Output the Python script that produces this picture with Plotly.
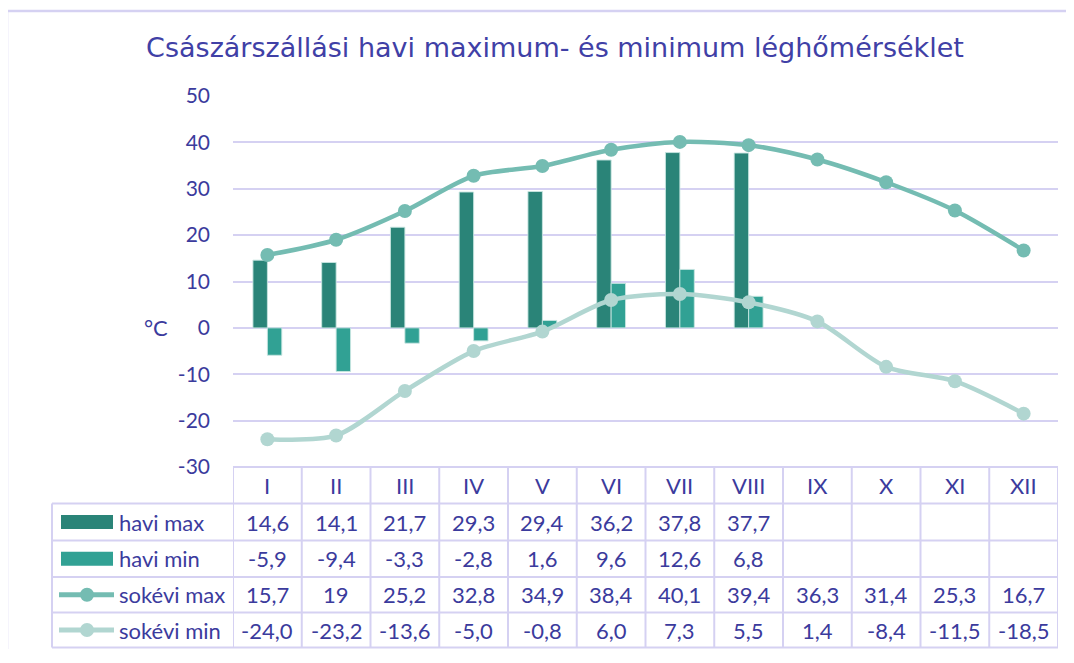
import plotly.graph_objects as go

months = ["I", "II", "III", "IV", "V", "VI", "VII", "VIII", "IX", "X", "XI", "XII"]
havi_max = [14.6, 14.1, 21.7, 29.3, 29.4, 36.2, 37.8, 37.7, None, None, None, None]
havi_min = [-5.9, -9.4, -3.3, -2.8, 1.6, 9.6, 12.6, 6.8, None, None, None, None]
sokevi_max = [15.7, 19, 25.2, 32.8, 34.9, 38.4, 40.1, 39.4, 36.3, 31.4, 25.3, 16.7]
sokevi_min = [-24.0, -23.2, -13.6, -5.0, -0.8, 6.0, 7.3, 5.5, 1.4, -8.4, -11.5, -18.5]
series_names = ["havi max", "havi min", "sokévi max", "sokévi min"]
y_ticks = [-30, -20, -10, 0, 10, 20, 30, 40, 50]
y_tick_labels = ["-30", "-20", "-10", "0", "10", "20", "30", "40", "50"]
title_text = "Császárszállási havi maximum- és minimum léghőmérséklet"
y_unit = "°C"

C_HMAX = "rgb(42,132,120)"
C_HMIN = "rgb(49,161,148)"
C_SMAX = "rgb(116,188,178)"
C_SMIN = "rgb(177,214,209)"
TXT = "#3b3b9d"
GRID = "#d5d1f2"
FONT = "Lato, Open Sans, sans-serif"

xs = list(range(len(months)))

fig = go.Figure()
fig.add_bar(x=xs, y=havi_max, name=series_names[0], marker_color=C_HMAX,
            marker_line=dict(color="rgba(200,230,225,0.9)", width=1))
fig.add_bar(x=xs, y=havi_min, name=series_names[1], marker_color=C_HMIN,
            marker_line=dict(color="rgba(200,230,225,0.9)", width=1))
fig.add_scatter(x=xs, y=sokevi_max, name=series_names[2], mode="lines+markers",
                line=dict(color=C_SMAX, width=4.5, shape="spline", smoothing=0.8),
                marker=dict(color=C_SMAX, size=14))
fig.add_scatter(x=xs, y=sokevi_min, name=series_names[3], mode="lines+markers",
                line=dict(color=C_SMIN, width=4.5, shape="spline", smoothing=0.8),
                marker=dict(color=C_SMIN, size=14))

# page offset (browser body margin)
OFF = 8
# plot area in screen pixels
PX0, PX1, PY0, PY1 = 233, 1058, 96, 467
W, H = 1074 - 2 * OFF, 663 - 2 * OFF - 6
L, T = PX0 - OFF, PY0 - OFF
R = W - (PX1 - OFF)
B = H - (PY1 - OFF)
pw, ph = PX1 - PX0, PY1 - PY0


def px2x(px):
    return (px - PX0) / pw


def py2y(py):
    return (PY1 - py) / ph


row_lines = [467, 503.5, 540.5, 577, 612.5, 647.5]
row_centers = [(row_lines[i] + row_lines[i + 1]) / 2 for i in range(5)]
left_px = 52

shapes = []
line_style = dict(color=GRID, width=2)
frame_style = dict(color=GRID, width=2.5)
# outer frame (left and top edges visible)
shapes.append(dict(type="line", xref="paper", yref="paper", x0=px2x(7), x1=px2x(7),
                   y0=py2y(700), y1=py2y(11), line=frame_style, layer="below"))
shapes.append(dict(type="line", xref="paper", yref="paper", x0=px2x(7), x1=px2x(1100),
                   y0=py2y(11), y1=py2y(11), line=frame_style, layer="below"))
# horizontal table lines
for i, py in enumerate(row_lines):
    x0 = 0 if i == 0 else px2x(left_px)
    shapes.append(dict(type="line", xref="paper", yref="paper", x0=x0, x1=1,
                       y0=py2y(py), y1=py2y(py), line=line_style))
# vertical table lines
for k in range(len(months) + 1):
    shapes.append(dict(type="line", xref="x", yref="paper", x0=k - 0.5, x1=k - 0.5,
                       y0=py2y(row_lines[0]), y1=py2y(row_lines[-1]), line=line_style))
shapes.append(dict(type="line", xref="paper", yref="paper", x0=px2x(left_px), x1=px2x(left_px),
                   y0=py2y(row_lines[1]), y1=py2y(row_lines[-1]), line=line_style))

# legend keys
for i, col in enumerate([C_HMAX, C_HMIN]):
    cy = row_centers[i + 1]
    shapes.append(dict(type="rect", xref="paper", yref="paper", x0=px2x(61), x1=px2x(113),
                       y0=py2y(cy + 7), y1=py2y(cy - 7), fillcolor=col, line=dict(width=0)))
for i, col in enumerate([C_SMAX, C_SMIN]):
    cy = row_centers[i + 3]
    shapes.append(dict(type="line", xref="paper", yref="paper", x0=px2x(59), x1=px2x(114),
                       y0=py2y(cy), y1=py2y(cy), line=dict(color=col, width=5)))
    shapes.append(dict(type="circle", xref="paper", yref="paper", x0=px2x(80), x1=px2x(94),
                       y0=py2y(cy + 7), y1=py2y(cy - 7), fillcolor=col, line=dict(width=0)))

annotations = []
tfont = dict(family=FONT, size=22, color=TXT)
for i, m in enumerate(months):
    annotations.append(dict(x=i, y=py2y(row_centers[0]), xref="x", yref="paper", text=m,
                            showarrow=False, font=tfont, xanchor="center", yanchor="middle"))


def fmt_general(v):
    if v is None:
        return ""
    return f"{v:g}".replace(".", ",")


def fmt_fixed(v):
    if v is None:
        return ""
    return f"{v:.1f}".replace(".", ",")


rows = [
    [fmt_general(v) for v in havi_max],
    [fmt_general(v) for v in havi_min],
    [fmt_general(v) for v in sokevi_max],
    [fmt_fixed(v) for v in sokevi_min],
]
for r, vals in enumerate(rows):
    cy = py2y(row_centers[r + 1])
    annotations.append(dict(x=px2x(117), y=cy, xref="paper", yref="paper", text=series_names[r],
                            showarrow=False, font=tfont, xanchor="left", yanchor="middle"))
    for i, t in enumerate(vals):
        if t:
            annotations.append(dict(x=i, y=cy, xref="x", yref="paper", text=t, showarrow=False,
                                    font=tfont, xanchor="center", yanchor="middle"))

annotations.append(dict(x=px2x(156), y=0, xref="paper", yref="y", text=y_unit, showarrow=False,
                        font=tfont, xanchor="center", yanchor="middle"))

fig.update_layout(
    width=W, height=H,
    margin=dict(l=L, r=R, t=T, b=B, pad=0),
    paper_bgcolor="white", plot_bgcolor="white",
    showlegend=False,
    barmode="group", bargap=0.58, bargroupgap=0,
    title=dict(text=title_text, x=(555 - OFF) / W, xanchor="center", y=1 - (48 - OFF) / H,
               yanchor="middle", font=dict(family="DejaVu Sans", size=27, color="#4040a6")),
    xaxis=dict(range=[-0.5, 11.5], showticklabels=False, showgrid=False, zeroline=False,
               showline=False, fixedrange=True),
    yaxis=dict(range=[-30, 50], tickmode="array", tickvals=y_ticks, ticktext=y_tick_labels,
               showgrid=True, gridcolor=GRID, gridwidth=2,
               zeroline=True, zerolinecolor=GRID, zerolinewidth=2, showline=False,
               tickfont=dict(family=FONT, size=21, color=TXT), ticklabelstandoff=22),
    shapes=shapes,
    annotations=annotations,
)

fig.write_html("out.html")
